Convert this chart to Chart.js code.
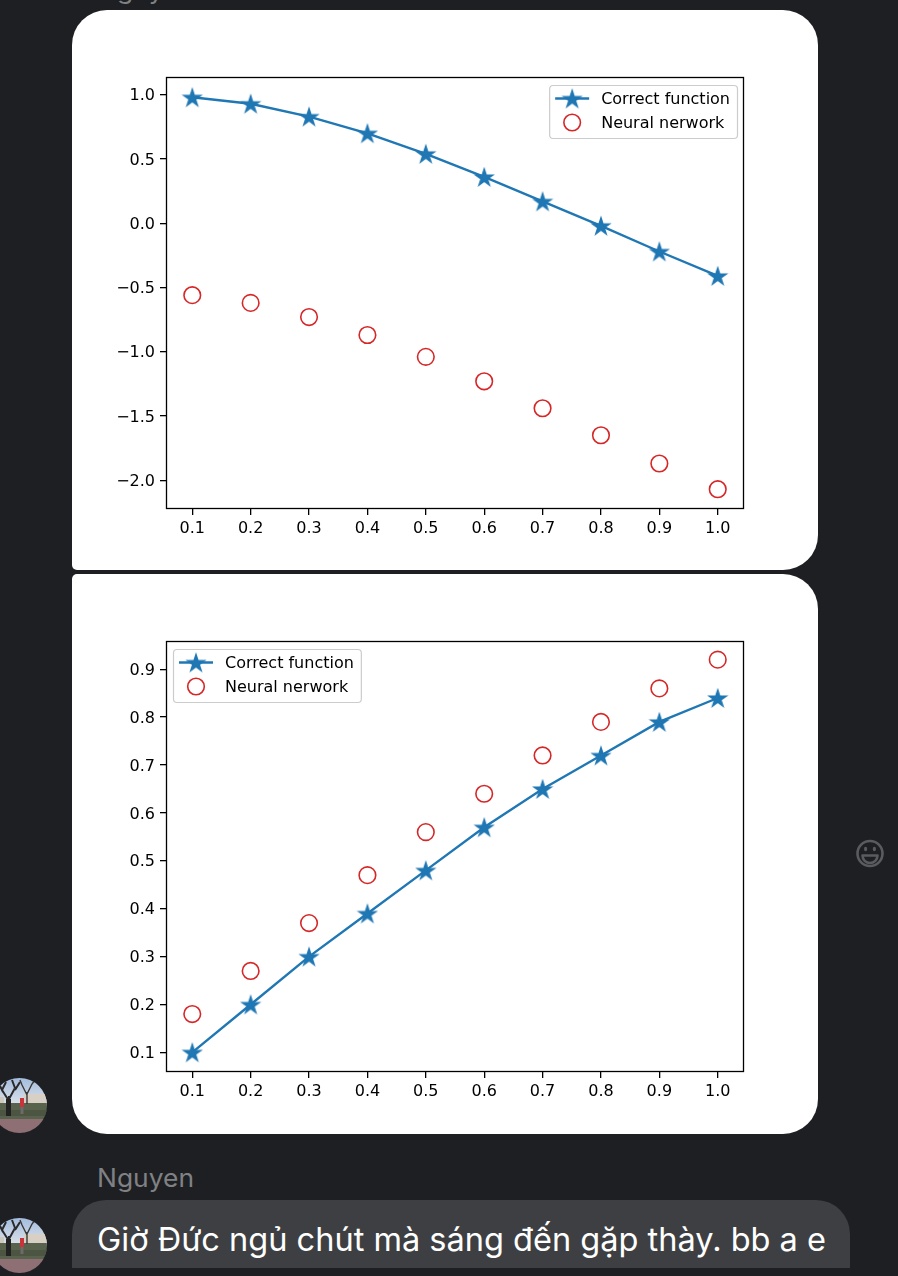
<!DOCTYPE html>
<html>
<head>
<meta charset="utf-8">
<script src="https://cdn.jsdelivr.net/npm/chart.js@4"></script>
<style>
html,body{margin:0;padding:0;background:#1e1f22;width:898px;height:1276px;overflow:hidden;}
.card{position:absolute;left:72px;width:746px;height:560px;background:#fff;overflow:hidden;}
#card1{top:10px;border-radius:35px 35px 35px 5px;}
#card2{top:574px;border-radius:5px 35px 35px 35px;}
canvas{display:block;}
#deco{position:absolute;left:0;top:0;}
</style>
</head>
<body>
<svg id="deco" width="898" height="1276" xmlns="http://www.w3.org/2000/svg">
  <defs>
    <clipPath id="clipAv"><circle cx="19.5" cy="1105.5" r="27.5"/></clipPath>
    <clipPath id="clipBubble"><rect x="0" y="1190" width="898" height="78"/></clipPath>
    <linearGradient id="sky" x1="0" y1="0" x2="0" y2="1">
      <stop offset="0" stop-color="#9fb9dc"/>
      <stop offset="1" stop-color="#dfe4ea"/>
    </linearGradient>
    <g id="avatar">
      <g clip-path="url(#clipAv)">
        <rect x="-10" y="1076" width="60" height="30" fill="url(#sky)"/>
        <rect x="24" y="1094" width="24" height="9" fill="#d8d0c4"/>
        <rect x="-10" y="1097" width="14" height="7" fill="#cfc8bc"/>
        <rect x="-10" y="1103" width="60" height="17" fill="#58624c"/>
        <rect x="-10" y="1110" width="60" height="6" fill="#4c5542"/>
        <rect x="-10" y="1119" width="60" height="17" fill="#8e6f73"/>
        <path d="M8 1116 L9 1096 M9 1101 L2 1090 M9 1099 L15 1088 M3 1092 L-1 1084 M15 1090 L20 1082 M2 1090 L6 1082 M15 1088 L12 1080" stroke="#2a2929" stroke-width="2" fill="none"/>
        <path d="M27 1104 L27 1092 M27 1095 L22 1085 M27 1094 L32 1084 M22 1085 L20 1080 M32 1084 L35 1080" stroke="#3a3837" stroke-width="1.4" fill="none"/>
        <rect x="6" y="1099" width="5" height="17" fill="#232222"/>
        <rect x="20" y="1098" width="4" height="9" fill="#c8343a"/>
        <rect x="20.5" y="1107" width="3" height="7" fill="#6d6a68"/>
      </g>
    </g>
  </defs>
  <text x="97" y="-1" font-family="Inter, 'Noto Sans', sans-serif" font-size="25" fill="#808184" textLength="97" lengthAdjust="spacingAndGlyphs">Nguyen</text>
  <use href="#avatar"/>
  <use href="#avatar" transform="translate(0,140)"/>
  <g fill="none" stroke="#5a5b5e" stroke-width="2.6">
    <circle cx="870" cy="853.5" r="12.5"/>
    <path d="M862.5 855.5 L877.5 855.5 A7.5 7.5 0 0 1 862.5 855.5 Z" stroke-linejoin="round"/>
  </g>
  <ellipse cx="865.6" cy="849" rx="1.6" ry="2.3" fill="#5a5b5e"/>
  <ellipse cx="874.4" cy="849" rx="1.6" ry="2.3" fill="#5a5b5e"/>
  <text x="97" y="1187" font-family="Inter, 'Noto Sans', sans-serif" font-size="25" fill="#808184" textLength="97" lengthAdjust="spacingAndGlyphs">Nguyen</text>
  <g clip-path="url(#clipBubble)">
    <rect x="72" y="1200" width="778" height="100" rx="34" ry="34" fill="#3e3f42"/>
  </g>
  <text x="97" y="1251" font-family="Inter, 'Noto Sans', sans-serif" font-size="32" fill="#ffffff" textLength="729" lengthAdjust="spacingAndGlyphs">Giờ Đức ngủ chút mà sáng đến gặp thày. bb a e</text>
</svg>

<div class="card" id="card1"><canvas id="c1" width="746" height="560"></canvas></div>
<div class="card" id="card2"><canvas id="c2" width="746" height="560"></canvas></div>

<script>
// ---- data ----
const xValues = [0.1, 0.2, 0.3, 0.4, 0.5, 0.6, 0.7, 0.8, 0.9, 1.0];
const xTicks = [0.1, 0.2, 0.3, 0.4, 0.5, 0.6, 0.7, 0.8, 0.9, 1.0];

const cosCorrect = [0.98, 0.93, 0.83, 0.70, 0.54, 0.36, 0.17, -0.02, -0.22, -0.41];
const cosNetwork = [-0.56, -0.62, -0.73, -0.87, -1.04, -1.23, -1.44, -1.65, -1.87, -2.07];
const cosYTicks = [-2.0, -1.5, -1.0, -0.5, 0.0, 0.5, 1.0];

const sinCorrect = [0.10, 0.20, 0.30, 0.39, 0.48, 0.57, 0.65, 0.72, 0.79, 0.84];
const sinNetwork = [0.18, 0.27, 0.37, 0.47, 0.56, 0.64, 0.72, 0.79, 0.86, 0.92];
const sinYTicks = [0.1, 0.2, 0.3, 0.4, 0.5, 0.6, 0.7, 0.8, 0.9];

const legendLabels = ['Correct function', 'Neural nerwork'];

// ---- style ----
const BLUE = '#1f77b4';
const RED = '#d62728';
const FAMILY = '"DejaVu Sans", sans-serif';
const FS = 16;

function makeStar(R) {
  const c = document.createElement('canvas');
  const s = Math.ceil(R * 2 + 4);
  c.width = s; c.height = s;
  const g = c.getContext('2d');
  g.translate(s / 2, s / 2 + R * 0.1);
  g.beginPath();
  for (let i = 0; i < 10; i++) {
    const r = (i % 2) ? R * 0.381966 : R;
    const a = -Math.PI / 2 + i * Math.PI / 5;
    g.lineTo(r * Math.cos(a), r * Math.sin(a));
  }
  g.closePath();
  g.fillStyle = BLUE; g.fill();
  g.strokeStyle = BLUE; g.lineWidth = 1.6; g.lineJoin = 'miter'; g.stroke();
  return c;
}
const starImg = makeStar(8.6);

const fmt = v => (Math.round(v * 10) / 10).toFixed(1).replace('-', '\u2212');

const framePlugin = {
  id: 'frame',
  afterDatasetsDraw(chart) {
    const { ctx, chartArea: a } = chart;
    ctx.save();
    ctx.strokeStyle = '#000';
    ctx.lineWidth = 1.3;
    ctx.strokeRect(Math.round(a.left) + 0.5, Math.round(a.top) + 0.5,
                   Math.round(a.right - a.left) - 1, Math.round(a.bottom - a.top) - 1);
    ctx.restore();
  }
};

const legendPlugin = {
  id: 'mplLegend',
  afterDraw(chart, args, opts) {
    const { ctx, chartArea: a } = chart;
    const ds = chart.data.datasets;
    ctx.save();
    ctx.font = FS + 'px ' + FAMILY;
    const tw = Math.max(...ds.map(d => ctx.measureText(d.label).width));
    const w = 6 + 34 + 12 + tw + 7;
    const h = 53;
    const x0 = opts.side === 'right' ? a.right - 7 - w : a.left + 7;
    const y0 = a.top + 8;
    ctx.beginPath();
    ctx.roundRect(x0 + 0.5, y0 + 0.5, w, h, 3.5);
    ctx.fillStyle = 'rgba(255,255,255,0.8)';
    ctx.fill();
    ctx.strokeStyle = '#cccccc';
    ctx.lineWidth = 1.2;
    ctx.stroke();
    ds.forEach((d, i) => {
      const cy = y0 + 13.5 + i * 24;
      const cx = x0 + 23;
      if (d.showLine) {
        ctx.beginPath();
        ctx.moveTo(x0 + 6, cy); ctx.lineTo(x0 + 40, cy);
        ctx.strokeStyle = d.borderColor; ctx.lineWidth = d.borderWidth; ctx.stroke();
      }
      if (d.pointStyle instanceof HTMLCanvasElement) {
        ctx.drawImage(d.pointStyle, cx - d.pointStyle.width / 2, cy - d.pointStyle.height / 2);
      } else {
        ctx.beginPath();
        ctx.arc(cx, cy, d.pointRadius, 0, Math.PI * 2);
        ctx.strokeStyle = d.pointBorderColor; ctx.lineWidth = d.pointBorderWidth; ctx.stroke();
      }
      ctx.fillStyle = '#000';
      ctx.textBaseline = 'middle';
      ctx.textAlign = 'left';
      ctx.fillText(d.label, x0 + 52, cy + 1);
    });
    ctx.restore();
  }
};

function axisCommon(extra) {
  return Object.assign({
    type: 'linear',
    grid: { display: true, drawOnChartArea: false, drawTicks: true, tickLength: 6, color: '#000', lineWidth: 1.3 },
    border: { display: false },
  }, extra);
}

function makeChart(id, correct, network, yTicks, yMin, yMax, side, padBottom) {
  return new Chart(document.getElementById(id), {
    type: 'line',
    data: {
      datasets: [
        {
          label: legendLabels[0],
          data: xValues.map((x, i) => ({ x: x, y: correct[i] })),
          borderColor: BLUE, backgroundColor: BLUE, borderWidth: 2.4,
          showLine: true, tension: 0, fill: false,
          pointStyle: starImg, pointRadius: 9
        },
        {
          label: legendLabels[1],
          data: xValues.map((x, i) => ({ x: x, y: network[i] })),
          showLine: false, borderColor: RED, backgroundColor: 'rgba(0,0,0,0)',
          pointStyle: 'circle', pointRadius: 8.3, pointBorderWidth: 1.6,
          pointBorderColor: RED, pointBackgroundColor: 'rgba(0,0,0,0)'
        }
      ]
    },
    options: {
      responsive: false,
      animation: false,
      events: [],
      layout: { padding: { left: 0, right: 74, top: 67, bottom: padBottom } },
      plugins: { legend: { display: false }, tooltip: { enabled: false }, mplLegend: { side: side } },
      scales: {
        x: axisCommon({
          min: 0.055, max: 1.045,
          afterBuildTicks: s => { s.ticks = xTicks.map(v => ({ value: v })); },
          afterFit: s => { s.height = 30; },
          ticks: { callback: fmt, font: { family: FAMILY, size: FS }, color: '#000', padding: 4, maxRotation: 0, autoSkip: false }
        }),
        y: axisCommon({
          min: yMin, max: yMax,
          afterBuildTicks: s => { s.ticks = yTicks.map(v => ({ value: v })); },
          afterFit: s => { s.width = 94; },
          ticks: { callback: fmt, font: { family: FAMILY, size: FS }, color: '#000', padding: 5, labelOffset: 1.5, autoSkip: false }
        })
      }
    },
    plugins: [framePlugin, legendPlugin]
  });
}

makeChart('c1', cosCorrect, cosNetwork, cosYTicks, -2.224, 1.138, 'right', 31);
makeChart('c2', sinCorrect, sinNetwork, sinYTicks, 0.059, 0.959, 'left', 32);
</script>
</body>
</html>
